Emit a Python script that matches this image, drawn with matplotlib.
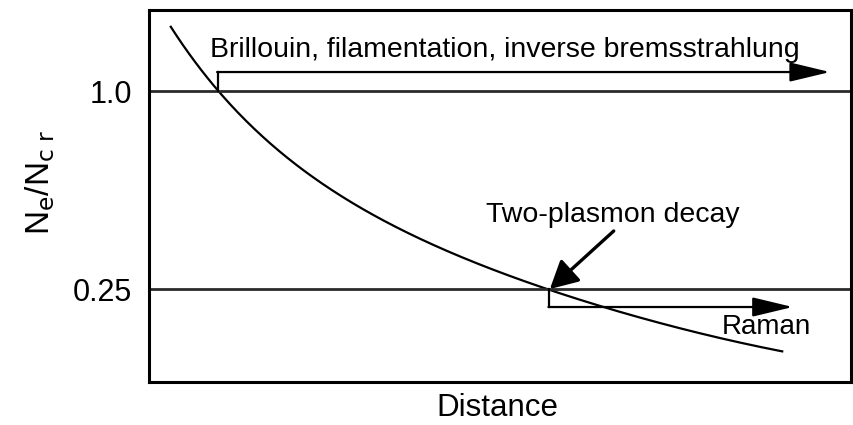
import numpy as np
import matplotlib.pyplot as plt

plt.rcParams['font.family'] = ['Liberation Sans', 'DejaVu Sans']

# density profile, distance in arbitrary units
distance = [0.31, 0.91, 1.44, 2.15, 2.96, 4.05, 5.00, 5.71, 6.47, 8.03, 9.02]
density = [1.25, 1.00, 0.89, 0.727, 0.549, 0.409, 0.322, 0.25, 0.182, 0.068, 0.015]

levels = [1.0, 0.25]
level_labels = ['1.0', '0.25']

fig = plt.figure(figsize=(8.54, 4.25), dpi=100)
ax = fig.add_axes([0.1745, 0.1012, 0.822, 0.8753])

# smooth the profile through the read points
xs = np.linspace(distance[0], distance[-1], 300)
coef = np.polyfit(distance, np.log(np.array(density) + 0.12), 3)
ax.plot(xs, np.exp(np.polyval(coef, xs)) - 0.12, color='black', lw=1.6)

for lv in levels:
    ax.axhline(lv, color='#2a2a2a', lw=2.0)

ax.set_xlim(0, 10)
ax.set_ylim(-0.102, 1.307)
ax.set_xticks([])
ax.set_yticks(levels)
ax.set_yticklabels(level_labels, fontsize=22)
ax.tick_params(axis='y', length=0, pad=12)
for s in ax.spines.values():
    s.set_linewidth(2.2)

fig.text(497 / 854, 1 - 408 / 425, 'Distance', fontsize=22.5,
         ha='center', va='center')
fig.text(40 / 854, 1 - 182 / 425, r'N$_\mathrm{e}$/N$_\mathrm{c\ r}$',
         fontsize=24, rotation=90, ha='center', va='center')

# Brillouin bracket arrow at critical density
head = dict(arrowstyle='-|>,head_length=2.5,head_width=0.6',
            color='black', lw=1.6, shrinkA=0, shrinkB=0)
ax.plot([0.98, 0.98], [1.0, 1.072], color='black', lw=1.6)
ax.annotate('', xy=(9.7, 1.072), xytext=(0.97, 1.072), arrowprops=head)
ax.text(0.87, 1.155, 'Brillouin, filamentation, inverse bremsstrahlung',
        fontsize=20.5, va='center', ha='left')

# Raman bracket at quarter critical
ax.plot([5.7, 5.7], [0.25, 0.182], color='black', lw=1.6)
ax.annotate('', xy=(9.17, 0.182), xytext=(5.69, 0.182), arrowprops=head)
ax.text(8.16, 0.106, 'Raman', fontsize=20, va='center', ha='left')

# two-plasmon decay pointer
ax.annotate('', xy=(5.71, 0.25), xytext=(6.62, 0.47),
            arrowprops=dict(arrowstyle='-|>,head_length=1.7,head_width=0.9',
                            color='black', lw=2.4, shrinkA=0, shrinkB=0))
ax.text(6.6, 0.53, 'Two-plasmon decay', fontsize=20.5, va='center', ha='center')

fig.savefig('out.png', dpi=100)
